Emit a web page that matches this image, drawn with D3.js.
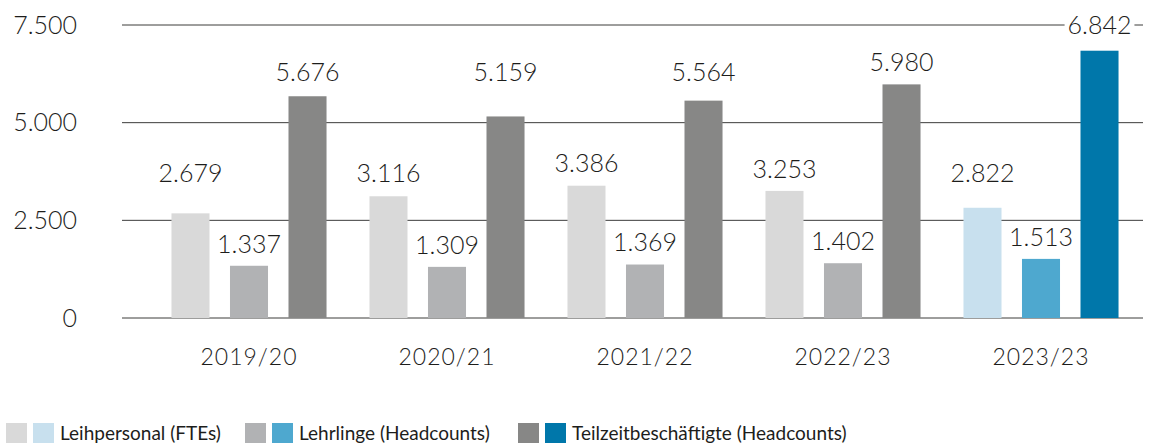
<!DOCTYPE html>
<html>
  <body style="margin:0">
    <style>
      text {
        font-family: Lato, "Noto Sans", sans-serif;
        font-weight: 300;
        fill: #1d1d1b;
      }
      .legend text {
        font-weight: 400;
      }
    </style>
    <script src="https://d3js.org/d3.v7.min.js"></script>
    <script type="text/javascript">
      const width = 1150;
      const height = 446;

      const years = ['2019/20', '2020/21', '2021/22', '2022/23', '2023/23'];
      const seriesNames = ['Leihpersonal (FTEs)', 'Lehrlinge (Headcounts)', 'Teilzeitbeschäftigte (Headcounts)'];
      const leihpersonal = [2679, 3116, 3386, 3253, 2822];
      const lehrlinge = [1337, 1309, 1369, 1402, 1513];
      const teilzeit = [5676, 5159, 5564, 5980, 6842];
      const yTicks = [0, 2500, 5000, 7500];

      const greyColors = ['#d9d9d9', '#b1b2b4', '#878786'];
      const blueColors = ['#c8e0ee', '#4ea8cf', '#0077aa'];
      const highlightYear = '2023/23';

      const values = [leihpersonal, lehrlinge, teilzeit];
      const fmt = (v) => d3.format(',')(v).replace(/,/g, '.');

      const svg = d3.select('body')
        .append('svg')
        .attr('width', width)
        .attr('height', height);

      const x0 = d3.scaleBand()
        .domain(years)
        .range([150, 1140]);

      const x1 = d3.scaleBand()
        .domain(d3.range(3))
        .range([0, x0.bandwidth()])
        .paddingInner(0.35)
        .paddingOuter(0.367);

      const y = d3.scaleLinear()
        .domain([0, 7500])
        .range([318, 25]);

      // gridlines + y labels
      svg.append('g')
        .selectAll('line')
        .data(yTicks)
        .enter()
        .append('line')
        .attr('x1', 122)
        .attr('x2', 1143)
        .attr('y1', (d) => y(d))
        .attr('y2', (d) => y(d))
        .attr('stroke', '#3c3c3b')
        .attr('stroke-width', 1);

      svg.append('g')
        .selectAll('text')
        .data(yTicks)
        .enter()
        .append('text')
        .attr('x', 77)
        .attr('y', (d) => y(d))
        .attr('dy', '0.35em')
        .attr('text-anchor', 'end')
        .attr('font-size', 25)
        .text((d) => fmt(d));

      const cells = [];
      years.forEach((year, i) => {
        values.forEach((vals, s) => {
          cells.push({ year, s, value: vals[i] });
        });
      });

      svg.append('g')
        .selectAll('rect')
        .data(cells)
        .enter()
        .append('rect')
        .attr('x', (d) => x0(d.year) + x1(d.s))
        .attr('y', (d) => y(d.value))
        .attr('width', x1.bandwidth())
        .attr('height', (d) => y(0) - y(d.value))
        .attr('fill', (d) => (d.year === highlightYear ? blueColors : greyColors)[d.s]);

      // value labels: one row per series, lifted where a bar would reach it
      const rowY = values.map((vals) => {
        const greyMax = d3.max(vals.filter((v, i) => years[i] !== highlightYear));
        return y(greyMax) - 12;
      });
      const labelY = (d) => {
        const ly = Math.min(rowY[d.s], y(d.value) - 22);
        const near = yTicks.find((t) => Math.abs(y(t) - ly) < 8);
        return near === undefined ? ly : y(near);
      };

      const labels = svg.append('g')
        .selectAll('g')
        .data(cells)
        .enter()
        .append('g')
        .attr('transform', (d) => `translate(${x0(d.year) + x1(d.s) + x1.bandwidth() / 2},${labelY(d)})`);

      labels.append('text')
        .attr('text-anchor', 'middle')
        .attr('dy', '0.35em')
        .attr('font-size', 25)
        .text((d) => fmt(d.value))
        .each(function (d) {
          d.bw = this.getBBox().width;
        });

      // white knockout behind labels sitting on a gridline
      labels.filter((d) => yTicks.some((t) => y(t) === labelY(d)))
        .insert('rect', 'text')
        .attr('x', (d) => -d.bw / 2 - 3)
        .attr('y', -6)
        .attr('width', (d) => d.bw + 6)
        .attr('height', 12)
        .attr('fill', '#fff');

      // category labels
      svg.append('g')
        .selectAll('text')
        .data(years)
        .enter()
        .append('text')
        .attr('x', (d) => x0(d) + x0.bandwidth() / 2)
        .attr('y', 357)
        .attr('dy', '0.35em')
        .attr('text-anchor', 'middle')
        .attr('font-size', 23)
        .attr('letter-spacing', 1)
        .text((d) => d);

      // legend
      const legendX = [6, 245, 518];
      const legend = svg.append('g')
        .attr('class', 'legend')
        .selectAll('g')
        .data(seriesNames)
        .enter()
        .append('g')
        .attr('transform', (d, i) => `translate(${legendX[i]},423)`);

      legend.append('rect')
        .attr('width', 21).attr('height', 20)
        .attr('fill', (d, i) => greyColors[i]);
      legend.append('rect')
        .attr('x', 27)
        .attr('width', 21).attr('height', 20)
        .attr('fill', (d, i) => blueColors[i]);
      legend.append('text')
        .attr('x', 54)
        .attr('y', 10)
        .attr('dy', '0.35em')
        .attr('font-size', 19)
        .text((d) => d);
    </script>
  </body>
</html>
